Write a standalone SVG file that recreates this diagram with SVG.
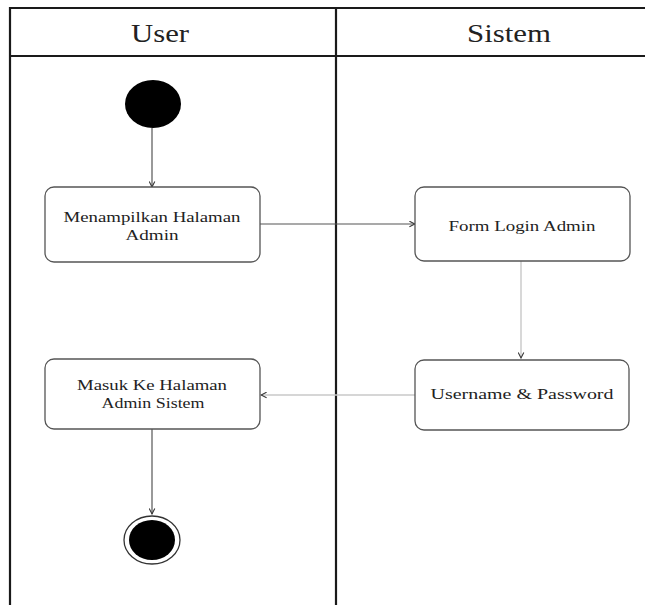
<svg xmlns="http://www.w3.org/2000/svg" width="645" height="605" viewBox="0 0 645 605">
  <style>
    .lane { fill: none; stroke: #1a1a1a; stroke-width: 2.2; }
    .head { font-family: "Liberation Serif", "DejaVu Serif", serif; font-size: 25px; fill: #222; text-anchor: middle; }
    .box { fill: #fff; stroke: #555; stroke-width: 1.3; }
    .lbl { font-family: "Liberation Serif", "DejaVu Serif", serif; font-size: 14px; fill: #222; text-anchor: middle; }
    .flow { fill: none; stroke: #555; stroke-width: 1.2; }
    .flow-light { fill: none; stroke: #c8c8c8; stroke-width: 1.4; }
  </style>
  <defs>
    <marker id="arrow" viewBox="0 0 10 10" refX="9" refY="5" markerWidth="7" markerHeight="7" orient="auto-start-reverse" markerUnits="userSpaceOnUse">
      <path d="M1,1 L9,5 L1,9" fill="none" stroke="#333" stroke-width="1.5"/>
    </marker>
  </defs>
  <rect width="645" height="605" fill="#fff"/>

  <!-- swimlanes -->
  <g id="lanes">
    <path class="lane" d="M10,610 V8 H650 M10,56 H650 M336,8 V610"/>
    <text class="head" x="160" y="42" textLength="58" lengthAdjust="spacingAndGlyphs">User</text>
    <text class="head" x="509" y="42" textLength="84" lengthAdjust="spacingAndGlyphs">Sistem</text>
  </g>

  <!-- connectors -->
  <g id="connectors">
    <path class="flow" d="M152,128 V187" marker-end="url(#arrow)"/>
    <path class="flow" d="M260,224 H415" marker-end="url(#arrow)"/>
    <path class="flow-light" d="M521,261 V358" marker-end="url(#arrow)"/>
    <path class="flow-light" d="M415,395 H261" marker-end="url(#arrow)"/>
    <path class="flow" d="M152,429 V514" marker-end="url(#arrow)"/>
  </g>

  <g id="start">
    <ellipse cx="153" cy="104" rx="28" ry="24" fill="#000"/>
  </g>

  <g id="menampilkan-halaman-admin">
    <rect class="box" x="45" y="187" width="215" height="75" rx="9"/>
    <text class="lbl" x="152" y="222" textLength="177" lengthAdjust="spacingAndGlyphs">Menampilkan Halaman</text>
    <text class="lbl" x="152" y="240" textLength="53" lengthAdjust="spacingAndGlyphs">Admin</text>
  </g>

  <g id="form-login-admin">
    <rect class="box" x="415" y="187" width="215" height="74" rx="9"/>
    <text class="lbl" x="522" y="231" textLength="147" lengthAdjust="spacingAndGlyphs">Form Login Admin</text>
  </g>

  <g id="username-password">
    <rect class="box" x="415" y="360" width="214" height="70" rx="9"/>
    <text class="lbl" x="522" y="399" textLength="183" lengthAdjust="spacingAndGlyphs">Username &amp; Password</text>
  </g>

  <g id="masuk-halaman-admin">
    <rect class="box" x="45" y="359" width="215" height="70" rx="9"/>
    <text class="lbl" x="152" y="390" textLength="150" lengthAdjust="spacingAndGlyphs">Masuk Ke Halaman</text>
    <text class="lbl" x="153" y="408" textLength="103" lengthAdjust="spacingAndGlyphs">Admin Sistem</text>
  </g>

  <g id="end">
    <ellipse cx="152" cy="540" rx="28" ry="24" fill="#fff" stroke="#333" stroke-width="1.3"/>
    <ellipse cx="152" cy="540" rx="23" ry="20" fill="#000"/>
  </g>
</svg>
